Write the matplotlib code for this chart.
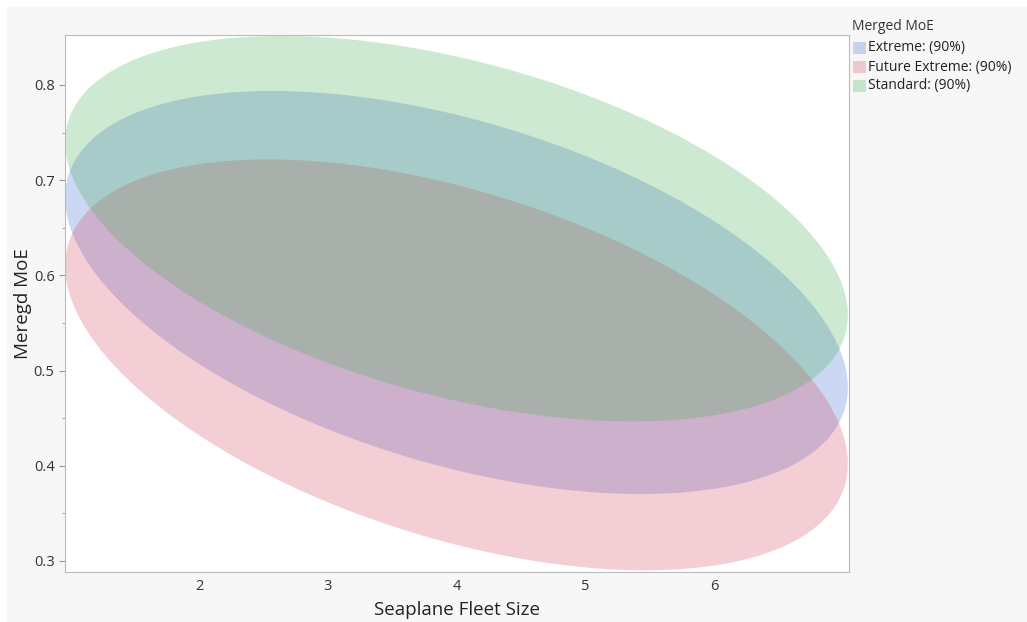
import numpy as np
import matplotlib.pyplot as plt
from matplotlib.patches import Rectangle

# 90% density ellipses per group (center, half extents, correlation)
groups = ['Extreme', 'Future Extreme', 'Standard']
colors = ['#3363d3', '#d3435b', '#3fab4b']
x_center = [4.0, 4.0, 4.0]
x_half = [3.04, 3.04, 3.04]
y_center = [0.582, 0.506, 0.649]
y_half = [0.2117, 0.2158, 0.2025]
corr = [-0.471, -0.482, -0.449]

W, H = 1027, 622
fig = plt.figure(figsize=(W / 100, H / 100), dpi=100, facecolor='white')
fig.patches.append(Rectangle((7 / W, 0), 1, 1 - 7 / H, transform=fig.transFigure,
                             facecolor='#f7f7f7', edgecolor='none', zorder=-10))
plt.rcParams['font.family'] = ['Open Sans', 'DejaVu Sans']

ax = fig.add_axes([65 / W, 1 - 572 / H, (849 - 65) / W, (572 - 35) / H])
ax.set_facecolor('white')

t = np.linspace(0, 2 * np.pi, 400)
for i in range(len(groups)):
    xs = x_center[i] + x_half[i] * np.cos(t)
    ys = y_center[i] + y_half[i] * (corr[i] * np.cos(t) + np.sqrt(1 - corr[i] ** 2) * np.sin(t))
    ax.fill(xs, ys, color=colors[i], alpha=0.25, linewidth=0)

ax.set_xlim(0.959, 7.049)
ax.set_ylim(0.2884, 0.8525)
ax.set_xticks([2, 3, 4, 5, 6])
ax.set_yticks([0.3, 0.4, 0.5, 0.6, 0.7, 0.8])
ax.set_yticks(np.arange(0.35, 0.85, 0.1), minor=True)
ax.tick_params(axis='x', length=0, pad=5, labelsize=10.5, colors='#333333')
ax.tick_params(axis='y', which='major', length=4, color='#999999', labelsize=10.5, labelcolor='#333333')
ax.tick_params(axis='y', which='minor', length=2, color='#999999')
for s in ax.spines.values():
    s.set_color('#bbbbbb')

ax.set_xlabel('Seaplane Fleet Size', fontsize=13.5, color='#222222', labelpad=5)
ax.set_ylabel('Meregd MoE', fontsize=13.5, color='#222222', labelpad=1)

# legend
fig.text(852 / W, 1 - 26 / H, 'Merged MoE', fontsize=10, color='#333333', va='center')
for i, g in enumerate(groups):
    yc = 48 + i * 19
    fig.patches.append(Rectangle((853 / W, 1 - (yc + 6) / H), 13 / W, 12 / H,
                                 transform=fig.transFigure, facecolor=colors[i],
                                 alpha=0.25, edgecolor='none'))
    fig.text(868 / W, 1 - yc / H, g + ': (90%)', fontsize=10, color='#222222', va='center')

fig.savefig('out.png', dpi=100, facecolor=fig.get_facecolor())
